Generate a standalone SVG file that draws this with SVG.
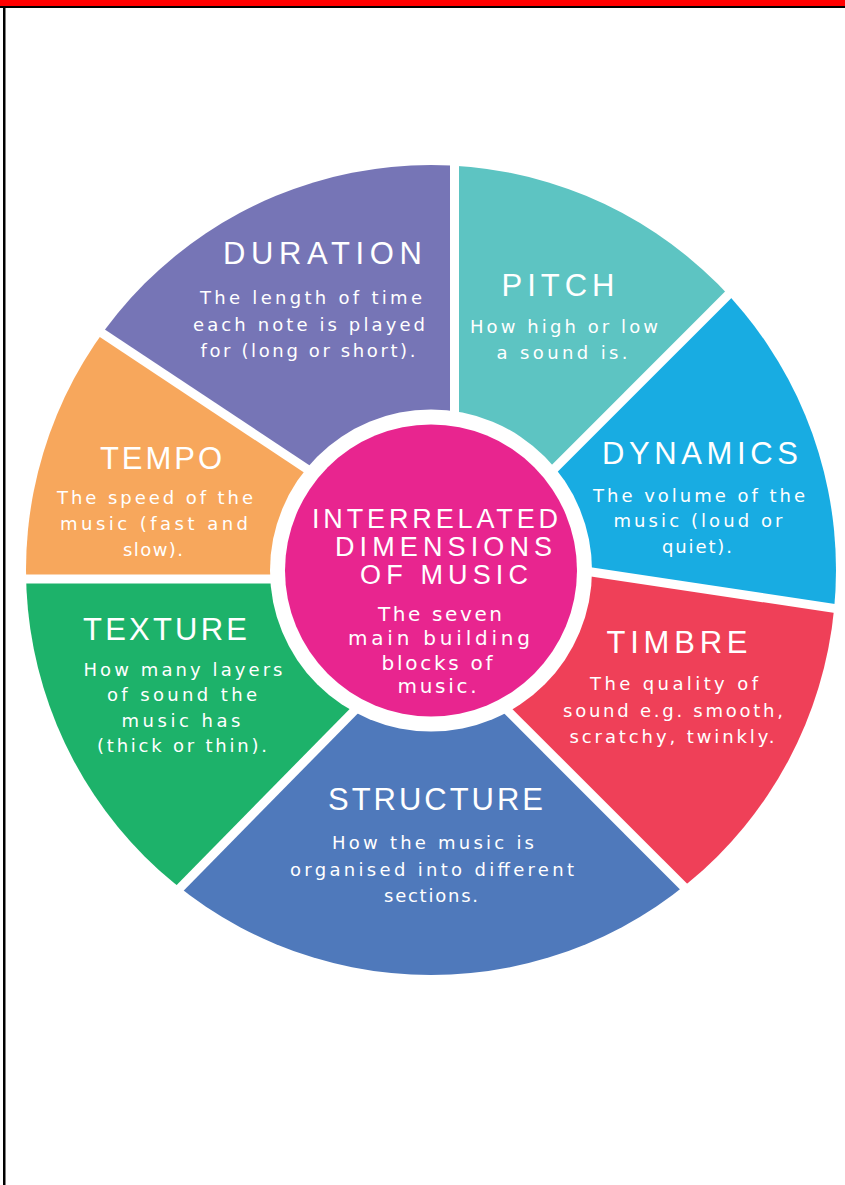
<svg xmlns="http://www.w3.org/2000/svg" width="845" height="1185" viewBox="0 0 845 1185">
<style>
.h{font-family:"Liberation Sans",Arial,sans-serif;font-size:31px;fill:#fff;text-anchor:middle}
.ch{font-family:"Liberation Sans",Arial,sans-serif;font-size:27px;fill:#fff;text-anchor:middle}
.b{font-family:"DejaVu Sans","Liberation Sans",sans-serif;font-size:18px;fill:#fff;text-anchor:middle}
.cb{font-family:"DejaVu Sans","Liberation Sans",sans-serif;font-size:20px;fill:#fff;text-anchor:middle}
.gap{stroke:#fff;stroke-width:9;fill:none}
</style>
<defs>
<clipPath id="wheel"><circle cx="431" cy="570" r="405"/></clipPath>
</defs>
<rect x="0" y="0" width="845" height="1185" fill="#fff"/>
<g id="duration">
<polygon clip-path="url(#wheel)" fill="#7675B6" points="431,570 320,478 -250,100 -250,-100 454.5,-100 454.5,430"/>
<text class="h" x="322.5" y="264" textLength="199" lengthAdjust="spacing">DURATION</text>
<text class="b" x="311" y="304" textLength="222" lengthAdjust="spacing">The length of time</text>
<text class="b" x="309" y="331" textLength="232" lengthAdjust="spacing">each note is played</text>
<text class="b" x="308" y="357" textLength="215" lengthAdjust="spacing">for (long or short).</text>
</g>
<g id="pitch">
<polygon clip-path="url(#wheel)" fill="#5DC4C2" points="431,570 454.5,430 454.5,-100 1150,-127 545,478"/>
<text class="h" x="558" y="296" textLength="113" lengthAdjust="spacing">PITCH</text>
<text class="b" x="564" y="333" textLength="188" lengthAdjust="spacing">How high or low</text>
<text class="b" x="562" y="359" textLength="131" lengthAdjust="spacing">a sound is.</text>
</g>
<g id="dynamics">
<polygon clip-path="url(#wheel)" fill="#18ACE2" points="431,570 545,478 1150,-127 1100,648 575,569.5"/>
<text class="h" x="700" y="464" textLength="196" lengthAdjust="spacing">DYNAMICS</text>
<text class="b" x="699" y="502" textLength="212" lengthAdjust="spacing">The volume of the</text>
<text class="b" x="698" y="527" textLength="169" lengthAdjust="spacing">music (loud or</text>
<text class="b" x="697" y="553" textLength="70" lengthAdjust="spacing">quiet).</text>
</g>
<g id="timbre">
<polygon clip-path="url(#wheel)" fill="#EF4058" points="431,570 575,569.5 1100,648 900,1103 500,703"/>
<text class="h" x="677" y="653" textLength="141" lengthAdjust="spacing">TIMBRE</text>
<text class="b" x="674" y="690" textLength="168" lengthAdjust="spacing">The quality of</text>
<text class="b" x="673" y="717" textLength="220" lengthAdjust="spacing">sound e.g. smooth,</text>
<text class="b" x="672" y="743" textLength="205" lengthAdjust="spacing">scratchy, twinkly.</text>
</g>
<g id="structure">
<polygon clip-path="url(#wheel)" fill="#4F79BB" points="431,570 500,703 900,1103 -50,1121 365,699"/>
<text class="h" x="435.5" y="810" textLength="215" lengthAdjust="spacing">STRUCTURE</text>
<text class="b" x="433" y="849" textLength="202" lengthAdjust="spacing">How the music is</text>
<text class="b" x="432" y="876" textLength="284" lengthAdjust="spacing">organised into different</text>
<text class="b" x="431" y="902" textLength="94" lengthAdjust="spacing">sections.</text>
</g>
<g id="texture">
<polygon clip-path="url(#wheel)" fill="#1DB26A" points="431,570 365,699 -50,1121 -300,1121 -300,579 290,579"/>
<text class="h" x="165" y="640" textLength="164" lengthAdjust="spacing">TEXTURE</text>
<text class="b" x="183" y="676" textLength="199" lengthAdjust="spacing">How many layers</text>
<text class="b" x="182" y="701" textLength="150" lengthAdjust="spacing">of sound the</text>
<text class="b" x="181" y="727" textLength="119" lengthAdjust="spacing">music has</text>
<text class="b" x="182" y="752" textLength="170" lengthAdjust="spacing">(thick or thin).</text>
</g>
<g id="tempo">
<polygon clip-path="url(#wheel)" fill="#F7A75C" points="431,570 290,579 -300,579 -250,100 320,478"/>
<text class="h" x="161" y="469" textLength="122" lengthAdjust="spacing">TEMPO</text>
<text class="b" x="155" y="504" textLength="196" lengthAdjust="spacing">The speed of the</text>
<text class="b" x="154" y="530" textLength="188" lengthAdjust="spacing">music (fast and</text>
<text class="b" x="153" y="556" textLength="60" lengthAdjust="spacing">slow).</text>
</g>
<g id="gaps">
<line class="gap" x1="454.5" y1="150" x2="454.5" y2="450"/>
<line class="gap" x1="750" y1="273" x2="505" y2="518"/>
<line class="gap" x1="850" y1="610.7" x2="540" y2="564.3"/>
<line class="gap" x1="700" y1="903" x2="470" y2="673"/>
<line class="gap" x1="160" y1="908.3" x2="390" y2="674.3"/>
<line class="gap" x1="18" y1="579" x2="300" y2="579"/>
<line class="gap" x1="85" y1="321.8" x2="340" y2="491"/>
</g>
<g id="center">
<circle cx="431" cy="570.5" r="161" fill="#fff"/>
<circle cx="431" cy="570.5" r="146" fill="#E8258F"/>
<text class="ch" x="435" y="528" textLength="246" lengthAdjust="spacing">INTERRELATED</text>
<text class="ch" x="443.5" y="556" textLength="217" lengthAdjust="spacing">DIMENSIONS</text>
<text class="ch" x="444" y="584" textLength="168" lengthAdjust="spacing">OF MUSIC</text>
<text class="cb" x="440" y="621" textLength="124" lengthAdjust="spacing">The seven</text>
<text class="cb" x="439" y="645" textLength="182" lengthAdjust="spacing">main building</text>
<text class="cb" x="437" y="670" textLength="111" lengthAdjust="spacing">blocks of</text>
<text class="cb" x="437" y="693" textLength="79" lengthAdjust="spacing">music.</text>
</g>
<g id="frame">
<rect x="0" y="0" width="845" height="6" fill="#ff0000"/>
<rect x="0" y="6" width="845" height="2" fill="#000"/>
<rect x="3" y="6" width="2.5" height="1179" fill="#000"/>
</g>
</svg>
